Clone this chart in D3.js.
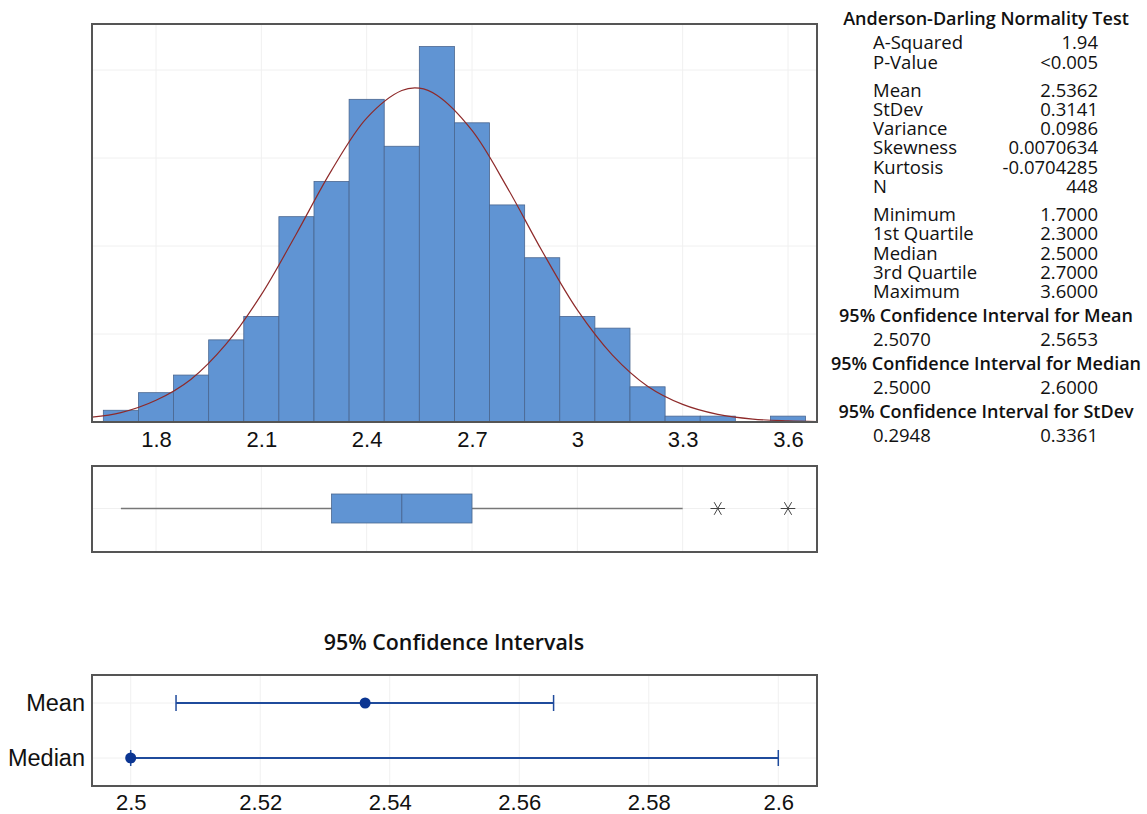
<!DOCTYPE html>
<html>
<head>
<meta charset="utf-8">
<script src="https://cdn.jsdelivr.net/npm/d3@7"></script>
<style>
body { margin: 0; background: #fff; }
svg { display: block; }
</style>
</head>
<body>
<div id="chart"></div>
<script>
// histogram bins (width 0.1) and counts
var binMids = [1.7, 1.8, 1.9, 2.0, 2.1, 2.2, 2.3, 2.4, 2.5, 2.6, 2.7, 2.8, 2.9, 3.0, 3.1, 3.2, 3.3, 3.4, 3.5, 3.6];
var binCounts = [2, 5, 8, 14, 18, 35, 41, 55, 47, 64, 51, 37, 28, 18, 16, 6, 1, 1, 0, 1];
var histTicks = [1.8, 2.1, 2.4, 2.7, 3, 3.3, 3.6];
var countGrid = [15, 30, 45, 60];

// fitted normal curve
var curveX = [1.6, 1.7, 1.8, 1.9, 2.0, 2.1, 2.2, 2.3, 2.4, 2.5, 2.55, 2.6, 2.7, 2.8, 2.9, 3.0, 3.1, 3.2, 3.3, 3.4, 3.5, 3.6, 3.7];
var curveY = [0.7, 1.6, 3.7, 7.3, 13.3, 21.7, 32.1, 42.9, 51.8, 56.5, 56.9, 55.7, 49.7, 40.0, 29.1, 19.1, 11.4, 6.1, 3.0, 1.3, 0.5, 0.2, 0.06];

// boxplot
var boxWhiskers = [1.7, 3.3];
var boxQuartiles = [2.3, 2.5, 2.7];
var outliers = [3.4, 3.6];

// confidence intervals
var ciLabels = ['Mean', 'Median'];
var ciCenter = [2.5362, 2.5];
var ciLow = [2.5070, 2.5];
var ciHigh = [2.5653, 2.6];
var ciTicks = [2.5, 2.52, 2.54, 2.56, 2.58, 2.6];

// summary table
var statLabels = ['A-Squared', 'P-Value', 'Mean', 'StDev', 'Variance', 'Skewness', 'Kurtosis', 'N',
	'Minimum', '1st Quartile', 'Median', '3rd Quartile', 'Maximum'];
var statValues = ['1.94', '<0.005', '2.5362', '0.3141', '0.0986', '0.0070634', '-0.0704285', '448',
	'1.7000', '2.3000', '2.5000', '2.7000', '3.6000'];
var ciHeaders = ['95% Confidence Interval for Mean', '95% Confidence Interval for Median', '95% Confidence Interval for StDev'];
var ciHeaderValues = [['2.5070', '2.5653'], ['2.5000', '2.6000'], ['0.2948', '0.3361']];

var svgWidth = 1147;
var svgHeight = 814;
var frameLeft = 92;
var frameRight = 817;
var histTop = 24;
var histBottom = 422;

var blue = '#6094d3';
var barEdge = '#4a6690';
var frameColor = '#555';
var gridColor = '#f0f0f0';
var axisFont = '"Liberation Sans", Arial, sans-serif';
var textFont = '"Open Sans", "Noto Sans", sans-serif';

var svg = d3.select('#chart').append('svg')
.attr('width', svgWidth)
.attr('height', svgHeight);

svg.append('rect')
.attr('width', svgWidth)
.attr('height', svgHeight)
.attr('fill', '#fff');

var xScale = d3.scaleLinear()
.domain([1.8, 3.6])
.range([156, 788]);

var yScale = d3.scaleLinear()
.domain([0, 60])
.range([histBottom, 70]);

//---------------------------------------------------------------- histogram

var hist = svg.append('g');

hist.append('clipPath')
.attr('id', 'histClip')
.append('rect')
.attr('x', frameLeft)
.attr('y', histTop)
.attr('width', frameRight - frameLeft)
.attr('height', histBottom - histTop);

hist.append('g')
.selectAll('line')
.data(countGrid)
.enter()
.append('line')
.attr('x1', frameLeft)
.attr('x2', frameRight)
.attr('y1', d => yScale(d))
.attr('y2', d => yScale(d))
.attr('stroke', gridColor);

hist.append('g')
.selectAll('line')
.data(histTicks)
.enter()
.append('line')
.attr('x1', d => xScale(d))
.attr('x2', d => xScale(d))
.attr('y1', histTop)
.attr('y2', histBottom)
.attr('stroke', gridColor);

hist.append('g')
.selectAll('rect')
.data(binMids.filter((d, i) => binCounts[i] > 0))
.enter()
.append('rect')
.attr('x', d => xScale(d - 0.05))
.attr('width', d => xScale(d + 0.05) - xScale(d - 0.05))
.attr('y', d => yScale(binCounts[binMids.indexOf(d)]))
.attr('height', d => histBottom - yScale(binCounts[binMids.indexOf(d)]))
.attr('fill', blue)
.attr('stroke', barEdge)
.attr('stroke-width', 0.8);

var curveLine = d3.line()
.x(d => xScale(d[0]))
.y(d => yScale(d[1]))
.curve(d3.curveCatmullRom);

hist.append('path')
.attr('clip-path', 'url(#histClip)')
.datum(curveX.map((x, i) => [x, curveY[i]]))
.attr('d', curveLine)
.attr('fill', 'none')
.attr('stroke', '#8e2a2a')
.attr('stroke-width', 1.2);

hist.append('rect')
.attr('x', frameLeft)
.attr('y', histTop)
.attr('width', frameRight - frameLeft)
.attr('height', histBottom - histTop)
.attr('fill', 'none')
.attr('stroke', frameColor)
.attr('stroke-width', 2);

var bottomAxis = d3.axisBottom(xScale)
.tickValues(histTicks)
.tickSize(0)
.tickPadding(9)
.tickFormat(d3.format('~g'));

hist.append('g')
.attr('transform', `translate(0, ${histBottom})`)
.call(bottomAxis)
.call(g => g.select('.domain').remove())
.selectAll('text')
.attr('font-family', axisFont)
.attr('font-size', '22px')
.attr('fill', '#111');

//---------------------------------------------------------------- boxplot

var boxTop = 466;
var boxBottom = 552;
var boxMid = 508.5;

var box = svg.append('g');

box.append('g')
.selectAll('line')
.data(histTicks)
.enter()
.append('line')
.attr('x1', d => xScale(d))
.attr('x2', d => xScale(d))
.attr('y1', boxTop)
.attr('y2', boxBottom)
.attr('stroke', gridColor);

box.append('line')
.attr('x1', frameLeft)
.attr('x2', frameRight)
.attr('y1', boxMid)
.attr('y2', boxMid)
.attr('stroke', gridColor);

box.append('line')
.attr('x1', xScale(boxWhiskers[0]))
.attr('x2', xScale(boxWhiskers[1]))
.attr('y1', boxMid)
.attr('y2', boxMid)
.attr('stroke', '#777')
.attr('stroke-width', 1.5);

box.append('rect')
.attr('x', xScale(boxQuartiles[0]))
.attr('width', xScale(boxQuartiles[2]) - xScale(boxQuartiles[0]))
.attr('y', boxMid - 14.5)
.attr('height', 29)
.attr('fill', blue)
.attr('stroke', barEdge)
.attr('stroke-width', 0.8);

box.append('line')
.attr('x1', xScale(boxQuartiles[1]))
.attr('x2', xScale(boxQuartiles[1]))
.attr('y1', boxMid - 14.5)
.attr('y2', boxMid + 14.5)
.attr('stroke', barEdge)
.attr('stroke-width', 1);

box.append('g')
.selectAll('path')
.data(outliers)
.enter()
.append('path')
.attr('transform', d => `translate(${xScale(d)}, ${boxMid}) rotate(90)`)
.attr('d', d3.symbol(d3.symbolAsterisk, 150))
.attr('fill', 'none')
.attr('stroke', '#444')
.attr('stroke-width', 1);

box.append('rect')
.attr('x', frameLeft)
.attr('y', boxTop)
.attr('width', frameRight - frameLeft)
.attr('height', boxBottom - boxTop)
.attr('fill', 'none')
.attr('stroke', frameColor)
.attr('stroke-width', 2);

//---------------------------------------------------------------- confidence intervals

var ciTop = 675;
var ciBottom = 786;

var ciX = d3.scaleLinear()
.domain([2.5, 2.6])
.range([130.7, 778.3]);

var ciY = d3.scalePoint()
.domain(ciLabels)
.range([703, 758]);

var ci = svg.append('g');

ci.append('text')
.attr('x', 454)
.attr('y', 650)
.attr('text-anchor', 'middle')
.attr('font-family', textFont)
.attr('font-weight', 600)
.attr('font-size', '21.4px')
.attr('fill', '#111')
.text('95% Confidence Intervals');

ci.append('g')
.selectAll('line')
.data(ciTicks)
.enter()
.append('line')
.attr('x1', d => ciX(d))
.attr('x2', d => ciX(d))
.attr('y1', ciTop)
.attr('y2', ciBottom)
.attr('stroke', gridColor);

ci.append('g')
.selectAll('line')
.data(ciLabels)
.enter()
.append('line')
.attr('x1', frameLeft)
.attr('x2', frameRight)
.attr('y1', d => ciY(d))
.attr('y2', d => ciY(d))
.attr('stroke', gridColor);

var rows = ci.append('g')
.selectAll('g')
.data(ciLabels)
.enter()
.append('g')
.attr('transform', d => `translate(0, ${ciY(d)})`);

rows.append('line')
.attr('x1', (d, i) => ciX(ciLow[i]))
.attr('x2', (d, i) => ciX(ciHigh[i]))
.attr('stroke', '#1f4b9c')
.attr('stroke-width', 2);

rows.append('line')
.attr('x1', (d, i) => ciX(ciLow[i]))
.attr('x2', (d, i) => ciX(ciLow[i]))
.attr('y1', -8)
.attr('y2', 8)
.attr('stroke', '#1f4b9c')
.attr('stroke-width', 1.5);

rows.append('line')
.attr('x1', (d, i) => ciX(ciHigh[i]))
.attr('x2', (d, i) => ciX(ciHigh[i]))
.attr('y1', -8)
.attr('y2', 8)
.attr('stroke', '#1f4b9c')
.attr('stroke-width', 1.5);

rows.append('circle')
.attr('cx', (d, i) => ciX(ciCenter[i]))
.attr('r', 5.5)
.attr('fill', '#0b3592');

ci.append('rect')
.attr('x', frameLeft)
.attr('y', ciTop)
.attr('width', frameRight - frameLeft)
.attr('height', ciBottom - ciTop)
.attr('fill', 'none')
.attr('stroke', frameColor)
.attr('stroke-width', 2);

var ciAxis = d3.axisBottom(ciX)
.tickValues(ciTicks)
.tickSize(0)
.tickPadding(8)
.tickFormat(d3.format('~g'));

ci.append('g')
.attr('transform', `translate(0, ${ciBottom})`)
.call(ciAxis)
.call(g => g.select('.domain').remove())
.selectAll('text')
.attr('font-family', axisFont)
.attr('font-size', '22px')
.attr('fill', '#111');

var ciLeft = d3.axisLeft(ciY)
.tickSize(0)
.tickPadding(7);

ci.append('g')
.attr('transform', `translate(${frameLeft}, 0)`)
.call(ciLeft)
.call(g => g.select('.domain').remove())
.selectAll('text')
.attr('font-family', axisFont)
.attr('font-size', '23.5px')
.attr('fill', '#111');

//---------------------------------------------------------------- summary text

var stats = svg.append('g')
.attr('font-family', textFont)
.attr('font-size', '18.5px')
.attr('fill', '#111');

var statBaselines = [49, 69, 97, 116, 135, 154, 174, 193, 221, 240, 260, 279, 298];

stats.append('text')
.attr('x', 986)
.attr('y', 25)
.attr('text-anchor', 'middle')
.attr('font-size', '18px')
.attr('font-weight', 600)
.text('Anderson-Darling Normality Test');

stats.append('g')
.selectAll('text')
.data(statLabels)
.enter()
.append('text')
.attr('x', 873)
.attr('y', (d, i) => statBaselines[i])
.text(d => d);

stats.append('g')
.selectAll('text')
.data(statValues)
.enter()
.append('text')
.attr('x', 1098)
.attr('y', (d, i) => statBaselines[i])
.attr('text-anchor', 'end')
.text(d => d);

var headerBaselines = [322, 370, 418];

stats.append('g')
.selectAll('text')
.data(ciHeaders)
.enter()
.append('text')
.attr('x', 986)
.attr('y', (d, i) => headerBaselines[i])
.attr('text-anchor', 'middle')
.attr('font-size', '18px')
.attr('font-weight', 600)
.text(d => d);

var pairs = stats.append('g')
.selectAll('g')
.data(ciHeaderValues)
.enter()
.append('g')
.attr('transform', (d, i) => `translate(0, ${headerBaselines[i] + 24})`);

pairs.append('text')
.attr('x', 873)
.text(d => d[0]);

pairs.append('text')
.attr('x', 1098)
.attr('text-anchor', 'end')
.text(d => d[1]);
</script>
</body>
</html>
